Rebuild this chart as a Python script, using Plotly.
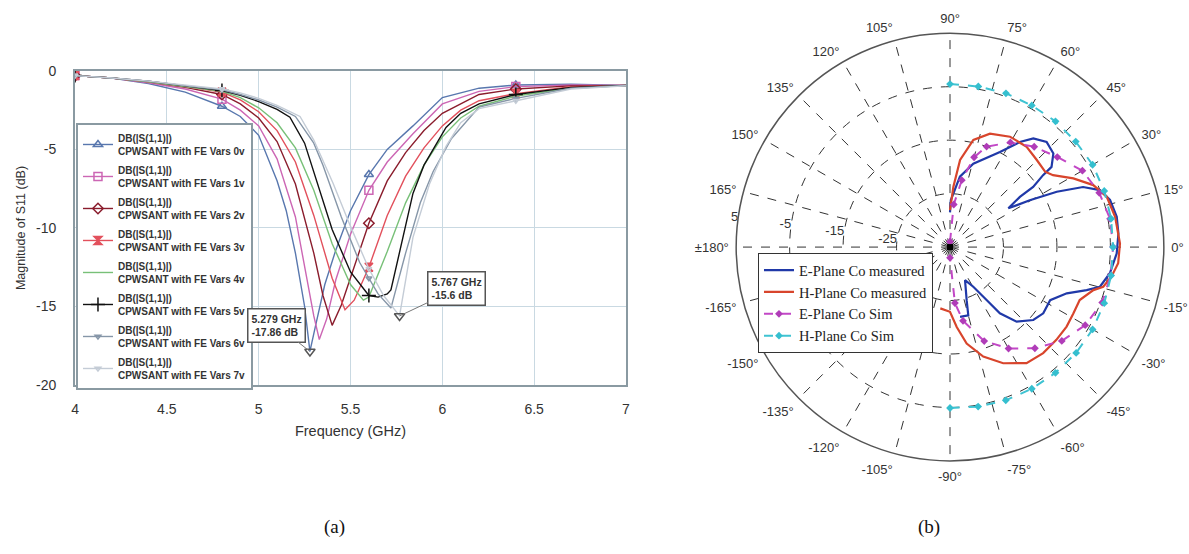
import plotly.graph_objects as go

# ---------------- (a) S11 vs frequency ----------------
voltages = ["0v", "1v", "2v", "3v", "4v", "5v", "6v", "7v"]

freq_0v = [4.0, 4.2, 4.4, 4.6, 4.8, 4.9, 5.0, 5.1, 5.15, 5.2, 5.25, 5.279, 5.31, 5.36, 5.42, 5.5, 5.6, 5.7, 5.84, 6.0, 6.2, 6.4, 6.7, 7.0]
db_0v = [-0.3, -0.45, -0.8, -1.35, -2.25, -2.9, -4.1, -7.0, -8.9, -11.6, -15.0, -17.86, -16.2, -13.6, -11.4, -8.9, -6.6, -5.0, -3.5, -1.7, -1.1, -0.9, -0.85, -0.92]

freq_1v = [4.0, 4.2, 4.4, 4.6, 4.8, 4.9, 5.0, 5.1, 5.2, 5.25, 5.3, 5.33, 5.37, 5.42, 5.5, 5.6, 5.7, 5.84, 6.0, 6.2, 6.4, 6.7, 7.0]
db_1v = [-0.3, -0.45, -0.75, -1.15, -1.8, -2.5, -3.5, -5.6, -9.3, -12.4, -15.6, -17.1, -15.8, -13.3, -10.4, -7.6, -5.8, -4.0, -2.1, -1.3, -1.0, -0.9, -0.92]

freq_2v = [4.0, 4.2, 4.4, 4.6, 4.8, 4.9, 5.0, 5.1, 5.2, 5.3, 5.35, 5.4, 5.45, 5.5, 5.6, 5.7, 5.8, 5.9, 6.0, 6.2, 6.4, 6.7, 7.0]
db_2v = [-0.3, -0.45, -0.7, -1.05, -1.5, -2.1, -3.0, -4.5, -7.2, -11.6, -14.3, -16.2, -14.9, -13.2, -9.7, -7.0, -5.2, -3.8, -2.7, -1.5, -1.15, -0.95, -0.93]

freq_3v = [4.0, 4.2, 4.4, 4.6, 4.8, 4.9, 5.0, 5.1, 5.2, 5.3, 5.4, 5.47, 5.52, 5.6, 5.7, 5.8, 5.9, 6.0, 6.1, 6.2, 6.4, 6.7, 7.0]
db_3v = [-0.3, -0.45, -0.7, -1.0, -1.35, -1.85, -2.6, -3.8, -5.8, -9.2, -13.2, -15.2, -14.6, -12.5, -9.2, -6.7, -4.9, -3.5, -2.5, -1.9, -1.45, -1.0, -0.93]

freq_4v = [4.0, 4.2, 4.4, 4.6, 4.8, 4.9, 5.0, 5.1, 5.2, 5.3, 5.4, 5.5, 5.57, 5.6, 5.7, 5.8, 5.9, 6.0, 6.1, 6.2, 6.4, 6.7, 7.0]
db_4v = [-0.3, -0.45, -0.7, -1.0, -1.3, -1.7, -2.35, -3.3, -4.9, -7.6, -11.0, -13.6, -14.6, -14.4, -11.5, -8.4, -6.0, -4.2, -3.0, -2.25, -1.6, -1.1, -0.93]

freq_5v = [4.0, 4.2, 4.4, 4.6, 4.8, 4.9, 5.0, 5.1, 5.17, 5.25, 5.32, 5.4, 5.5, 5.6, 5.65, 5.7, 5.72, 5.77, 5.84, 5.9, 6.02, 6.1, 6.2, 6.4, 6.7, 7.0]
db_5v = [-0.3, -0.45, -0.65, -0.95, -1.25, -1.55, -1.95, -2.45, -2.95, -4.6, -7.2, -10.1, -12.8, -14.3, -14.4, -14.2, -13.95, -11.4, -7.8, -6.0, -3.6, -2.7, -2.1, -1.5, -1.05, -0.93]

freq_6v = [4.0, 4.2, 4.4, 4.6, 4.8, 4.9, 5.0, 5.1, 5.2, 5.3, 5.35, 5.45, 5.55, 5.6, 5.65, 5.72, 5.8, 5.88, 5.95, 6.05, 6.2, 6.4, 6.7, 7.0]
db_6v = [-0.3, -0.45, -0.65, -0.95, -1.2, -1.5, -1.85, -2.3, -2.9, -4.6, -6.0, -9.3, -12.2, -13.2, -14.2, -15.1, -11.6, -8.4, -6.4, -4.3, -2.3, -1.75, -1.1, -0.93]

freq_7v = [4.0, 4.2, 4.4, 4.6, 4.8, 4.9, 5.0, 5.1, 5.225, 5.3, 5.405, 5.5, 5.6, 5.68, 5.767, 5.84, 5.93, 6.02, 6.1, 6.2, 6.4, 6.7, 7.0]
db_7v = [-0.3, -0.45, -0.65, -0.9, -1.15, -1.4, -1.75, -2.2, -2.9, -4.4, -7.15, -9.9, -12.6, -14.3, -15.6, -10.6, -7.2, -4.8, -3.3, -2.4, -1.9, -1.15, -0.95]

marker_freqs = [4.0, 4.8, 5.6, 6.4]
x_ticks = [4, 4.5, 5, 5.5, 6, 6.5, 7]
x_ticktext = ["4", "4.5", "5", "5.5", "6", "6.5", "7"]
y_ticks = [0, -5, -10, -15, -20]
y_ticktext = ["0", "-5", "-10", "-15", "-20"]

marker_readouts = [(5.279, -17.86, "5.279 GHz", "-17.86 dB"), (5.767, -15.6, "5.767 GHz", "-15.6 dB")]

# ---------------- (b) radiation pattern ----------------
e_meas_theta = [90, 89, 82, 74.4, 62.3, 56.4, 52.5, 47.4, 42.2, 38.3, 37.7, 35.9, 35.7, 33.6, 30.4, 27.4, 24.3, 20.8, 16.4, 10.3, 4.6, -2.2, -9.3, -14.8, -17.5, -21.6, -27.9, -35.4, -41.2, -48.2, -53, -55.3, -59.6, -65.6, -72.7, -75, -81.8]
e_meas_db = [-28.5, -26.2, -21.7, -18.8, -14.9, -11.4, -9.4, -8.3, -8.9, -10.8, -13.0, -15.8, -18.9, -21.9, -17.7, -12.5, -7.7, -5.0, -3.8, -3.3, -3.4, -3.8, -4.7, -6.0, -8.2, -11.5, -13.8, -13.6, -14.3, -16.3, -19.5, -22.9, -26.4, -28.2, -24.5, -21.8, -21.8]

h_meas_theta = [90, 86.8, 83.4, 77.7, 70.6, 61.5, 52.6, 45.1, 38.4, 34.9, 29.1, 23.4, 17.8, 10.4, 1.2, -5.5, -10.4, -14.5, -16.7, -22.2, -28.3, -34.3, -41.1, -48.7, -56.6, -65.4, -73.1, -80.2, -85.2, -90, -99]
h_meas_db = [-28.1, -23.7, -18.6, -14.5, -12.5, -11.5, -11.4, -12.0, -12.3, -11.5, -8.6, -5.8, -4.2, -3.6, -3.2, -3.4, -4.3, -5.4, -7.0, -8.8, -8.8, -8.6, -8.6, -8.6, -9.0, -11.1, -13.6, -16.7, -20.0, -22.9, -23.4]

e_sim_theta = [90, 85, 80, 75, 70, 60, 50, 40, 30, 20, 10, 0, -10, -20, -30, -40, -50, -60, -70, -80, -85, -90]
e_sim_db = [-34, -27.0, -22.3, -17.6, -15.0, -12.4, -10.5, -8.8, -6.4, -5.3, -4.6, -4.5, -4.5, -4.7, -5.8, -7.7, -10.3, -13.1, -16.3, -21.0, -24.5, -33]

h_sim_theta = [90, 80, 70, 60, 50, 40, 30, 20, 10, 0, -10, -20, -30, -40, -50, -60, -70, -80, -90]
h_sim_db = [-4.5, -4.5, -4.4, -4.4, -4.3, -4.3, -4.2, -4.3, -4.4, -4.5, -4.4, -4.3, -4.2, -4.2, -4.3, -4.4, -4.5, -4.7, -4.9]

ang_tickvals = list(range(0, 360, 15))
ang_ticktext = ["0°", "15°", "30°", "45°", "60°", "75°", "90°", "105°", "120°", "135°", "150°", "165°",
                "±180°", "-165°", "-150°", "-135°", "-120°", "-105°", "-90°", "-75°", "-60°", "-45°", "-30°", "-15°"]
rad_tickvals = [-25, -15, -5, 5]
rad_ticktext = ["-25", "-15", "-5", "5"]
rad_label_angle = 172

# ---------------- figure ----------------
fig = go.Figure()

series = [
    (freq_0v, db_0v, "#5877ae", "triangle-up-open", 8),
    (freq_1v, db_1v, "#cc66b4", "square-open", 8),
    (freq_2v, db_2v, "#8a1c2c", "diamond-open", 8),
    (freq_3v, db_3v, "#e2505c", "hourglass", 8),
    (freq_4v, db_4v, "#78c078", None, 0),
    (freq_5v, db_5v, "#111111", "cross-thin-open", 10),
    (freq_6v, db_6v, "#8696a8", "triangle-down-open", 5),
    (freq_7v, db_7v, "#c4ccd6", "triangle-down-open", 5),
]
for v, (fx, fy, col, sym, msz) in zip(voltages, series):
    name = f"<b>DB(|S(1,1)|)<br>CPWSANT with FE Vars {v}</b>"
    if sym is None:
        fig.add_trace(go.Scatter(x=fx, y=fy, mode="lines", name=name,
                                 line=dict(color=col, width=1.4),
                                 legend="legend", legendgroup=v, xaxis="x", yaxis="y"))
        continue
    sel = [i for i, f in enumerate(fx) if any(abs(f - m) < 1e-9 for m in marker_freqs)]
    fig.add_trace(go.Scatter(
        x=fx, y=fy, mode="lines+markers", name=name,
        line=dict(color=col, width=1.4),
        marker=dict(symbol=sym, size=msz, color=col, line=dict(color=col, width=1.5)),
        selectedpoints=sel, selected=dict(marker=dict(opacity=1)),
        unselected=dict(marker=dict(opacity=0)),
        legend="legend", legendgroup=v, xaxis="x", yaxis="y"))

for mx, my, t1, t2 in marker_readouts:
    fig.add_trace(go.Scatter(x=[mx], y=[my], mode="markers", showlegend=False,
                             marker=dict(symbol="triangle-down-open", size=9, color="#555",
                                         line=dict(color="#555", width=1.5)),
                             xaxis="x", yaxis="y"))

ann_font = dict(size=10.5, family="Liberation Sans, Arial", color="#333")
fig.add_annotation(x=marker_readouts[0][0], y=marker_readouts[0][1], xref="x", yref="y",
                   text=f"<b>{marker_readouts[0][2]}<br>{marker_readouts[0][3]}</b>", align="left",
                   showarrow=True, arrowhead=0, arrowcolor="#777", arrowwidth=1, ax=-33, ay=-26,
                   bgcolor="white", bordercolor="#555", borderwidth=1.5, borderpad=3, font=ann_font)
fig.add_annotation(x=marker_readouts[1][0], y=marker_readouts[1][1], xref="x", yref="y",
                   text=f"<b>{marker_readouts[1][2]}<br>{marker_readouts[1][3]}</b>", align="left",
                   showarrow=True, arrowhead=0, arrowcolor="#777", arrowwidth=1, ax=57, ay=-27,
                   bgcolor="white", bordercolor="#555", borderwidth=1.5, borderpad=3, font=ann_font)

# polar traces
fig.add_trace(go.Scatterpolar(r=e_meas_db, theta=e_meas_theta, mode="lines", name="E-Plane Co measured",
                              line=dict(color="#2039a8", width=2.2), subplot="polar", legend="legend2"))
fig.add_trace(go.Scatterpolar(r=h_meas_db, theta=h_meas_theta, mode="lines", name="H-Plane Co measured",
                              line=dict(color="#d8452c", width=2.2), subplot="polar", legend="legend2"))
fig.add_trace(go.Scatterpolar(r=e_sim_db, theta=e_sim_theta, mode="lines+markers", name="E-Plane Co Sim",
                              line=dict(color="#c247c6", width=2, dash="dash"),
                              marker=dict(symbol="diamond", size=6, color="#b03cb8"),
                              subplot="polar", legend="legend2"))
fig.add_trace(go.Scatterpolar(r=h_sim_db, theta=h_sim_theta, mode="lines+markers", name="H-Plane Co Sim",
                              line=dict(color="#3fc3d2", width=2, dash="dash"),
                              marker=dict(symbol="diamond", size=6, color="#35bfcf"),
                              subplot="polar", legend="legend2"))
fig.add_trace(go.Scatterpolar(r=[-35], theta=[0], mode="markers", showlegend=False,
                              marker=dict(symbol="square", size=6, color="black"), subplot="polar"))
# radial tick labels (drawn as text on the polar scale)
fig.add_trace(go.Scatterpolar(r=rad_tickvals, theta=[rad_label_angle] * len(rad_tickvals), mode="text",
                              text=rad_ticktext, textposition="middle left", showlegend=False, cliponaxis=False,
                              textfont=dict(family="Liberation Sans, Arial", size=13, color="#333"),
                              hoverinfo="skip", subplot="polar"))

axis_font = dict(family="Liberation Sans, Arial", size=14, color="#333")
polar_font = dict(family="Liberation Sans, Arial", size=13, color="#333")

fig.update_layout(
    width=1189, height=554, margin=dict(l=0, r=0, t=0, b=0, autoexpand=False),
    paper_bgcolor="white", plot_bgcolor="white",
    showlegend=True,
    xaxis=dict(domain=[0.0631, 0.5265], range=[4, 7], tickvals=x_ticks, ticktext=x_ticktext,
               automargin=False,
               showgrid=True, gridcolor="#c9d9e2", gridwidth=1, zeroline=False,
               showline=True, linecolor="#8a9aa2", linewidth=2, mirror=True,
               ticks="outside", ticklen=10, tickcolor="rgba(0,0,0,0)",
               tickfont=axis_font, title=dict(text="Frequency (GHz)", font=dict(family="Liberation Sans, Arial", size=14.5, color="#333"), standoff=10)),
    yaxis=dict(domain=[0.305, 0.872], range=[-20, 0], tickvals=y_ticks, ticktext=y_ticktext,
               automargin=False,
               showgrid=True, gridcolor="#c9d9e2", gridwidth=1, zeroline=False,
               showline=True, linecolor="#8a9aa2", linewidth=2, mirror=True,
               ticks="outside", ticklen=14, tickcolor="rgba(0,0,0,0)",
               tickfont=axis_font, title=dict(text="Magnitude of S11 (dB)", font=dict(family="Liberation Sans, Arial", size=12.5, color="#333"), standoff=8)),
    legend=dict(x=0.0639, y=0.778, xanchor="left", yanchor="top", bgcolor="white",
                bordercolor="#8a9aa2", borderwidth=2, tracegroupgap=3, itemwidth=30,
                font=dict(family="Liberation Sans, Arial", size=10, color="#333")),
    legend2=dict(x=0.6375, y=0.543, xanchor="left", yanchor="top", bgcolor="white",
                 bordercolor="#333", borderwidth=1, tracegroupgap=0,
                 font=dict(family="Liberation Serif, Times New Roman", size=14.5, color="#222")),
    polar=dict(domain=dict(x=[0.619, 0.979], y=[0.168, 0.940]), bgcolor="white",
               angularaxis=dict(direction="counterclockwise", rotation=0, tickvals=ang_tickvals,
                                ticktext=ang_ticktext, showgrid=True, gridcolor="#333", griddash="dash",
                                gridwidth=1, showline=True, linecolor="#555", linewidth=1.5,
                                ticks="outside", ticklen=4, tickcolor="rgba(0,0,0,0)",
                                tickfont=polar_font),
               radialaxis=dict(range=[-35, 5], tickvals=rad_tickvals, showticklabels=False,
                               angle=rad_label_angle, showline=False, ticks="", showgrid=True,
                               gridcolor="#333", griddash="dash", gridwidth=1)),
)

fig.add_annotation(x=322 / 1189, y=1 - 540 / 554, xref="paper", yref="paper", text="(a)", showarrow=False,
                   font=dict(family="Liberation Serif, Times New Roman", size=19, color="#111"))
fig.add_annotation(x=942 / 1189, y=1 - 540 / 554, xref="paper", yref="paper", text="(b)", showarrow=False,
                   font=dict(family="Liberation Serif, Times New Roman", size=19, color="#111"))

fig.write_html("out.html", config={"displayModeBar": False},
               post_script="document.body.style.margin='0';document.body.style.padding='0';")
